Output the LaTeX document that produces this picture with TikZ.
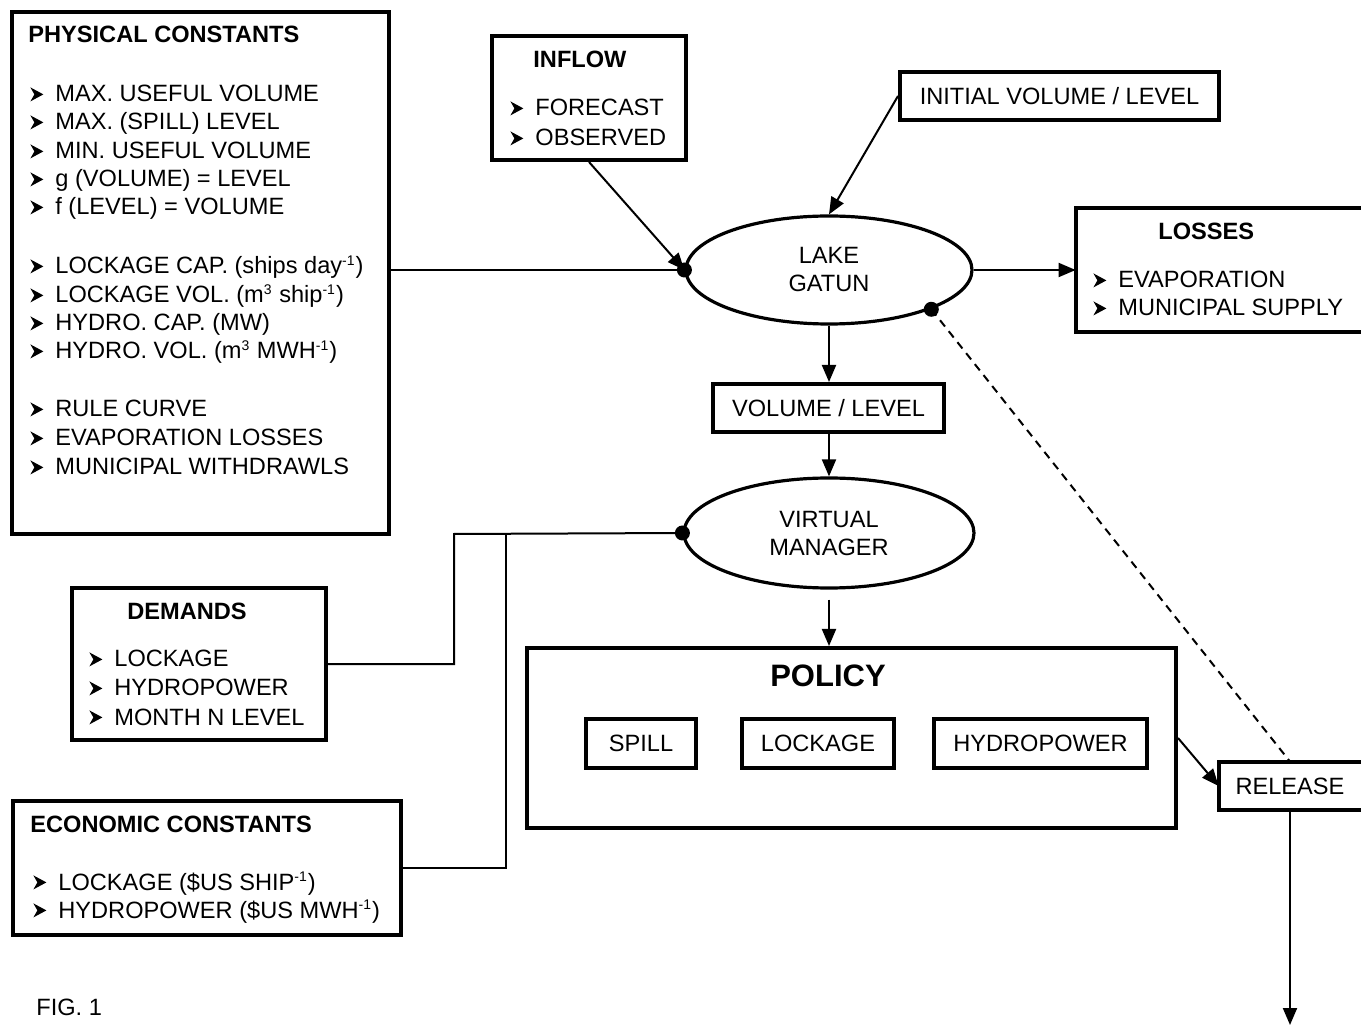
\documentclass[tikz,border=0pt]{standalone}
\usepackage{fontspec}
\setmainfont{Liberation Sans}
\usetikzlibrary{shapes.geometric,arrows.meta,fit}
\newcommand\dtxt{\fontsize{11.8pt}{14pt}\selectfont}
\newcommand\bul{\makebox[12.5pt][l]{\tikz[baseline=0pt]\fill (0pt,0.3pt) -- (6.5pt,3.8pt) -- (0pt,7.3pt) -- (2pt,3.8pt) -- cycle;}}
\newcommand\sups[1]{\textsuperscript{\fontsize{7pt}{7pt}\selectfont #1}}
\begin{document}
\begin{tikzpicture}[x=0.5pt,y=-0.5pt,
  box/.style={draw, line width=2pt, inner sep=0pt},
  openbox/.style={inner sep=0pt},
  oval/.style={draw, ellipse, line width=1.6pt, inner sep=0pt, align=center, font=\dtxt},
  txt/.style={anchor=base west, inner sep=0pt, font=\dtxt},
  ttl/.style={anchor=base west, inner sep=0pt, font=\dtxt\bfseries},
  ctxt/.style={anchor=center, inner sep=0pt, font=\dtxt},
  arr/.style={line width=1pt, -{Triangle[length=8.5pt,width=7pt]}},
  con/.style={line width=1pt},
  dot/.style={circle, fill, inner sep=0pt, minimum size=7.5pt}
]
\useasboundingbox (0,0) rectangle (1361,1026);

% PHYSICAL CONSTANTS
\node[box, fit={(12,12)(389,534)}] (phys) {};
\node[ttl] (pt) at (28,43) {PHYSICAL CONSTANTS};
\node[txt] (p1) at (30,102) {\bul MAX. USEFUL VOLUME};
\node[txt] (p2) at (30,130) {\bul MAX. (SPILL) LEVEL};
\node[txt] (p3) at (30,159) {\bul MIN. USEFUL VOLUME};
\node[txt] (p4) at (30,187) {\bul g (VOLUME) = LEVEL};
\node[txt] (p5) at (30,215) {\bul f (LEVEL) = VOLUME};
\node[txt] (p6) at (30,274) {\bul LOCKAGE CAP. (ships day\sups{-1})};
\node[txt] (p7) at (30,303) {\bul LOCKAGE VOL. (m\sups{3} ship\sups{-1})};
\node[txt] (p8) at (30,331) {\bul HYDRO. CAP. (MW)};
\node[txt] (p9) at (30,359) {\bul HYDRO. VOL. (m\sups{3} MWH\sups{-1})};
\node[txt] (p10) at (30,417) {\bul RULE CURVE};
\node[txt] (p11) at (30,446) {\bul EVAPORATION LOSSES};
\node[txt] (p12) at (30,475) {\bul MUNICIPAL WITHDRAWLS};

% INFLOW
\node[box, fit={(492,36)(686,160)}] (inflow) {};
\node[ttl] (it) at (533,68) {INFLOW};
\node[txt] (i1) at (510,116) {\bul FORECAST};
\node[txt] (i2) at (510,146) {\bul OBSERVED};

% INITIAL
\node[box, fit={(900,72)(1219,120)}] (init) {};
\node[ctxt] (initt) at (init.center) {INITIAL VOLUME / LEVEL};

% LAKE GATUN
\node[oval, minimum width=143pt, minimum height=54pt] (lake) at (829,270) {LAKE\\GATUN};

% LOSSES (right side cut by the page edge)
\node[openbox, fit={(1076,208)(1361,332)}] (losses) {};
\draw[line width=2pt] (losses.north east) -- (losses.north west) -- (losses.south west) -- (losses.south east);
\node[ttl] (lt) at (1158,240) {LOSSES};
\node[txt] (l1) at (1093,288) {\bul EVAPORATION};
\node[txt] (l2) at (1093,316) {\bul MUNICIPAL SUPPLY};

% VOLUME / LEVEL
\node[box, fit={(713,384)(944,432)}] (vol) {};
\node[ctxt] (volt) at (vol.center) {VOLUME / LEVEL};

% VIRTUAL MANAGER
\node[oval, minimum width=145pt, minimum height=55pt] (virt) at (829,533) {VIRTUAL\\MANAGER};

% POLICY
\node[box, fit={(527,648)(1176,828)}] (policy) {};
\node[anchor=base, inner sep=0pt, font=\fontsize{15.5pt}{18pt}\selectfont\bfseries] (polt) at (828,686) {POLICY};
\node[box, fit={(586,719)(696,768)}] (spill) {};
\node[ctxt] (spillt) at (spill.center) {SPILL};
\node[box, fit={(742,719)(894,768)}] (lock) {};
\node[ctxt] (lockt) at (lock.center) {LOCKAGE};
\node[box, fit={(934,719)(1147,768)}] (hydro) {};
\node[ctxt] (hydrot) at (hydro.center) {HYDROPOWER};

% RELEASE (right side cut by the page edge)
\node[openbox, fit={(1219,762)(1361,810)}] (release) {};
\draw[line width=2pt] (release.north east) -- (release.north west) -- (release.south west) -- (release.south east);
\node[ctxt] (relt) at (1290,786) {RELEASE};

% DEMANDS
\node[box, fit={(72,588)(326,740)}] (dem) {};
\node[ttl] (dt) at (127,619) {DEMANDS};
\node[txt] (d1) at (89,667) {\bul LOCKAGE};
\node[txt] (d2) at (89,696) {\bul HYDROPOWER};
\node[txt] (d3) at (89,725) {\bul MONTH N LEVEL};

% ECONOMIC CONSTANTS
\node[box, fit={(13,801)(401,935)}] (econ) {};
\node[ttl] (et) at (30,832) {ECONOMIC CONSTANTS};
\node[txt] (e1) at (33,890) {\bul LOCKAGE (\$US SHIP\sups{-1})};
\node[txt] (e2) at (33,918) {\bul HYDROPOWER (\$US MWH\sups{-1})};

% FIG
\node[txt] (fig) at (36,1015) {FIG. 1};

% connectors
\coordinate (j1) at (454,534);
\coordinate (j2) at (506,534);
\coordinate (rend) at (1290,1025);

\draw[con] (phys.east |- lake.west) -- (lake.west);
\draw[arr] (inflow.south) -- (lake.west);
\draw[arr] (init.west) -- (lake.north);
\draw[arr] (lake.east) -- (losses.west |- lake.east);
\draw[arr] (lake.south) -- (lake.south |- vol.north);
\draw[arr] (vol.south -| lake.south) -- (virt.north);
\draw[arr, shorten <=5pt] (virt.south) -- (virt.south |- policy.north);
\draw[con] (virt.west) -- (j1) |- (dem.east);
\draw[con] (j2) |- (econ.east);
\draw[arr] (policy.east) -- (release.west);
\draw[con, dash pattern=on 4pt off 3pt] (lake.-21) -- (release.north);
\draw[arr] (release.south) -- (rend);

\node[dot] (dt1) at (lake.west) {};
\node[dot] (dt2) at (lake.-21) {};
\node[dot] (dt3) at (virt.west) {};
\end{tikzpicture}
\end{document}
